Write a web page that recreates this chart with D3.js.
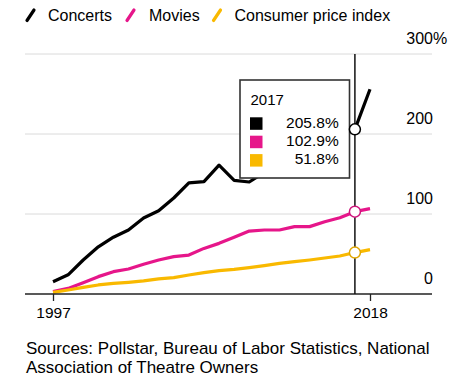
<!DOCTYPE html>
<html>
<head>
<meta charset="utf-8">
<script src="https://cdn.jsdelivr.net/npm/d3@7/dist/d3.min.js"></script>
<style>
  html, body { margin: 0; padding: 0; background: #fff; }
  svg { display: block; font-family: "Liberation Sans", Arial, Helvetica, sans-serif; }
</style>
</head>
<body>
<svg id="chart" width="474" height="381"></svg>
<script>
// ---- data ----
const years = [1997,1998,1999,2000,2001,2002,2003,2004,2005,2006,2007,2008,2009,2010,2011,2012,2013,2014,2015,2016,2017,2018];
const concerts = [15.4,24,42.5,59,71,80,95,104,120,139,140.5,161,142,140,152,162,172,180,190,198,205.8,256];
const movies   = [2.9,7,14.2,21.7,27.9,31.2,37.1,42.5,46.7,48.7,57,63.3,70.8,78.7,80,80,84.2,84.2,90.4,95.4,102.9,106.7];
const cpi      = [2.1,5,8.3,11.3,13.3,14.6,16.3,18.8,20.4,23.8,26.7,29.2,30.8,32.9,35.4,38.3,40.4,42.5,45,47.5,51.8,55.5];
const seriesNames = ["Concerts","Movies","Consumer price index"];
const seriesColors = ["#000000","#e6168a","#f9b900"];
const yTicks = [0,100,200,300];
const xTicks = [1997,2018];
const highlightYear = 2017;
const sourceLines = ["Sources: Pollstar, Bureau of Labor Statistics, National","Association of Theatre Owners"];

const allSeries = [concerts, movies, cpi];

const svg = d3.select("#chart");
const x = d3.scaleLinear().domain([1997,2018]).range([53,370]);
const y = d3.scaleLinear().domain([0,300]).range([294,54]);
const gridLeft = 25, gridRight = 432;

// legend
const legendX = [[27,48],[127,149],[213.5,234.5]];
const lg = svg.append("g");
seriesNames.forEach((name,i)=>{
  const [ix, tx] = legendX[i];
  lg.append("line").attr("x1",ix).attr("y1",20.5).attr("x2",ix+7).attr("y2",10)
    .attr("stroke",seriesColors[i]).attr("stroke-width",3.2).attr("stroke-linecap","round");
  lg.append("text").attr("x",tx).attr("y",20.5).attr("font-size",16).attr("fill","#000").text(name);
});

// gridlines
svg.append("g").selectAll("line").data(yTicks.filter(d=>d>0)).join("line")
  .attr("x1",gridLeft).attr("x2",gridRight)
  .attr("y1",d=>y(d)).attr("y2",d=>y(d))
  .attr("stroke","#dadada").attr("stroke-width",1);

// y axis labels (right)
const yAxis = d3.axisRight(y).tickValues(yTicks).tickSize(0).tickPadding(0).tickFormat(d=>String(d));
const yg = svg.append("g").attr("transform",`translate(${gridRight+1},0)`).call(yAxis);
yg.select(".domain").remove();
yg.selectAll("text").attr("text-anchor","end").attr("x",0).attr("dy",-10.5)
  .attr("font-size",16).attr("font-family","'Liberation Sans', Arial, sans-serif").attr("fill","#000");
yg.selectAll(".tick").filter(d=>d===300).append("text")
  .attr("x",0).attr("dy",-10.5).attr("text-anchor","start").attr("font-size",16)
  .attr("font-family","'Liberation Sans', Arial, sans-serif").attr("fill","#000").text("%");

// series lines
const line = d3.line().x((d,i)=>x(years[i])).y(d=>y(d));
allSeries.forEach((s,i)=>{
  svg.append("path").datum(s).attr("d",line).attr("fill","none")
    .attr("stroke",seriesColors[i]).attr("stroke-width",3.2)
    .attr("stroke-linejoin","round").attr("stroke-linecap","butt");
});

// baseline + x axis
svg.append("line").attr("x1",gridLeft).attr("x2",gridRight).attr("y1",y(0)).attr("y2",y(0))
  .attr("stroke","#222").attr("stroke-width",1.3);
const xAxis = d3.axisBottom(x).tickValues(xTicks).tickSize(7).tickPadding(6).tickFormat(d3.format("d"));
const xg = svg.append("g").attr("transform",`translate(0,${y(0)})`).call(xAxis);
xg.select(".domain").remove();
xg.selectAll(".tick line").attr("stroke","#222").attr("stroke-width",1.3);
xg.selectAll("text").attr("font-size",15.5).attr("font-family","'Liberation Sans', Arial, sans-serif").attr("fill","#000");

// highlight vertical line
const hi = years.indexOf(highlightYear);
svg.append("line").attr("x1",x(highlightYear)).attr("x2",x(highlightYear))
  .attr("y1",y(300)).attr("y2",y(0)).attr("stroke","#111").attr("stroke-width",1.5);

// tooltip box
const tb = svg.append("g");
tb.append("rect").attr("x",240).attr("y",80).attr("width",109.5).attr("height",98)
  .attr("fill","#fff").attr("stroke","#333").attr("stroke-width",1.6);
tb.append("text").attr("x",250.5).attr("y",104.7).attr("font-size",15).attr("fill","#000").text(highlightYear);
allSeries.forEach((s,i)=>{
  tb.append("rect").attr("x",250).attr("y",117.3+i*18.4).attr("width",12.5).attr("height",12.5)
    .attr("fill",seriesColors[i]);
  tb.append("text").attr("x",338.7).attr("y",127.5+i*18.4).attr("text-anchor","end")
    .attr("font-size",15.5).attr("fill","#000").text(d3.format(".1f")(s[hi])+"%");
});

// highlight circles
allSeries.forEach((s,i)=>{
  svg.append("circle").attr("cx",x(highlightYear)).attr("cy",y(s[hi])).attr("r",5.5)
    .attr("fill","#fff").attr("stroke",i===0?"#000":d3.color(seriesColors[i]).darker(0.3)).attr("stroke-width",1.5);
});

// sources
const st = svg.append("text").attr("x",26).attr("y",353.5).attr("font-size",17).attr("fill","#000");
sourceLines.forEach((t,i)=>{
  st.append("tspan").attr("x",26).attr("y",353.5+i*19.1).text(t);
});
</script>
</body>
</html>
